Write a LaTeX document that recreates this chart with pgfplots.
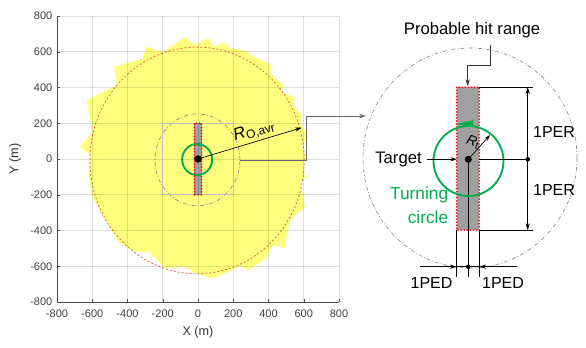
\documentclass[border=0pt]{standalone}
\usepackage{pgfplots}
\pgfplotsset{compat=1.18}
\usepackage{fontspec}
\setmainfont{Liberation Sans}
\usetikzlibrary{arrows.meta}
\definecolor{yel}{RGB}{255,255,125}
\definecolor{grn}{RGB}{0,176,80}
\definecolor{redc}{RGB}{245,20,20}
\definecolor{orc}{RGB}{225,105,70}
\definecolor{barg}{RGB}{160,160,160}
\tikzset{reddots/.style={redc, line width=1.5pt, line cap=round, dash pattern=on 0pt off 2.3pt}}
\begin{document}
\begin{tikzpicture}
\useasboundingbox (0,0) rectangle (439.5pt,260.25pt);
\begin{axis}[
 at={(42.75pt,33.75pt)}, anchor=south west,
 width=211.5pt, height=214.5pt, scale only axis,
 xmin=-800,xmax=800,ymin=-800,ymax=800,
 xtick={-800,-600,...,800}, ytick={-800,-600,...,800},
 grid=major, grid style={black, opacity=0.12, line width=0.5pt},
 axis on top,
 axis x line*=bottom, axis y line*=left,
 axis line style={black!70, line width=0.5pt, -},
 tick style={black!70}, major tick length=2.5pt, tick align=inside,
 ticklabel style={font=\fontsize{8.25}{10}\selectfont, text=black!75},
 /pgf/number format/assume math mode=true,
 xticklabel style={yshift=-2pt},
 xlabel={X (m)}, ylabel={Y (m)},
 label style={font=\fontsize{9.5}{11}\selectfont, text=black!80},
 clip=true,
]
\addplot[fill=yel, draw=none] coordinates {
(-670,69) (-600,150) (-631,330) (-461,414) (-475,516) (-310,563) (-297,628) (-197,600)
(-74,681) (-20,640) (58,675) (87,628) (149,651) (187,619) (276,606) (300,580) (418,526)
(410,480) (484,414) (470,380) (550,340) (540,300) (592,246) (580,200) (626,125) (588,69)
(607,22) (600,-60) (607,-106) (579,-127) (607,-275) (550,-313) (520,-350) (490,-500)
(430,-480) (380,-560) (286,-621) (240,-600) (150,-640) (78,-667) (-17,-640) (-74,-602)
(-187,-612) (-282,-518) (-367,-518) (-452,-463) (-556,-295) (-603,-201) (-622,-90) (-613,22)
(-670,69)};
\draw[orc, line width=0.6pt, dash pattern=on 1.5pt off 1.5pt] (axis cs:-5,-8) ellipse [x radius=608, y radius=634];
\draw[black!45, line width=0.5pt, dash pattern=on 3pt off 1.5pt on 0.6pt off 1.5pt] (axis cs:-3,-5) ellipse [x radius=241, y radius=257];
\draw[black!15, line width=0.6pt] (axis cs:-200,-200) rectangle (axis cs:200,200);
\fill[barg] (axis cs:-20,-200) rectangle (axis cs:20,200);
\draw[reddots] (axis cs:-20,-200) rectangle (axis cs:20,200);
\draw[grn, line width=1.4pt] (axis cs:-5,-3) ellipse [x radius=85, y radius=87];
\fill[grn] (axis cs:-22,82) -- (axis cs:10,92) -- (axis cs:10,72) -- cycle;
\draw[black, line width=0.5pt, -{Stealth[length=5pt,width=3.2pt]}] (axis cs:0,0) -- (axis cs:588,175);
\addplot[only marks, mark=*, mark size=2.5pt, black] coordinates {(0,0)};
\node[rotate=16.5, inner sep=0pt] at (axis cs:318,158) {{\fontsize{12.5}{14}\selectfont\textit{R}}{\fontsize{9}{10}\selectfont\raisebox{-0.45ex}{O,avr}}};
\end{axis}
\begin{axis}[
 at={(0pt,0pt)}, anchor=south west,
 width=439.5pt, height=260.25pt, scale only axis,
 hide axis, xmin=0,xmax=586,ymin=0,ymax=347, y dir=reverse, clip=false,
]
% connector
\draw[black!60, line width=0.5pt, -{Stealth[length=5pt,width=3.2pt]}] (axis cs:240,160) -- (axis cs:306,160) -- (axis cs:306,116) -- (axis cs:366,116);
% big circle
\draw[black!45, line width=0.5pt, dash pattern=on 3pt off 1.5pt on 0.6pt off 1.5pt] (axis cs:470,158) ellipse [x radius=107, y radius=110];
% bar
\fill[barg] (axis cs:456.7,87.3) rectangle (axis cs:479.3,230);
% center line
\draw[black, line width=0.5pt] (axis cs:468.3,159.3) -- (axis cs:468.3,276.7);
\draw[black, line width=0.5pt] (axis cs:456.7,230) -- (axis cs:456.7,276.7);
\draw[black, line width=0.5pt] (axis cs:479.3,230) -- (axis cs:479.3,276.7);
\draw[reddots] (axis cs:456.7,87.3) rectangle (axis cs:479.3,230);
% green circle
\draw[grn, line width=1.4pt] (axis cs:468.5,161) circle [radius=35];
\fill[grn] (axis cs:455.5,124) -- (axis cs:473.3,120) -- (axis cs:473.3,127.5) -- cycle;
% Rt arrow
\draw[black, line width=0.5pt, -{Stealth[length=4.5pt,width=3pt]}] (axis cs:468.3,159.3) -- (axis cs:490,135);
\node[rotate=-20, inner sep=0pt] at (axis cs:473,142) {{\fontsize{10.5}{12}\selectfont\textit{R}}{\fontsize{7.5}{9}\selectfont\raisebox{-0.45ex}{t}}};
% Target
\node[font=\fontsize{12.5}{14}\selectfont] at (axis cs:398.5,159.3) {Target};
\draw[black, line width=0.5pt, -{Stealth[length=4.5pt,width=3pt]}] (axis cs:426.7,159.3) -- (axis cs:456.7,159.3);
% 1PER dimension
\draw[black, line width=0.5pt] (axis cs:479.3,87.3) -- (axis cs:532.7,87.3);
\draw[black, line width=0.5pt] (axis cs:479.3,230) -- (axis cs:532.7,230);
\draw[black, line width=0.5pt] (axis cs:479.3,159.3) -- (axis cs:527.7,159.3);
\draw[black, line width=0.5pt, -{Stealth[length=5pt,width=3.2pt]}] (axis cs:527.7,159.3) -- (axis cs:527.7,87.3);
\draw[black, line width=0.5pt, -{Stealth[length=5pt,width=3.2pt]}] (axis cs:527.7,159.3) -- (axis cs:527.7,230);
\node[font=\fontsize{12}{14}\selectfont] at (axis cs:554,132) {1PER};
\node[font=\fontsize{12}{14}\selectfont] at (axis cs:554,190) {1PER};
% 1PED dimension
\draw[black, line width=0.5pt, -{Stealth[length=5pt,width=3.2pt]}] (axis cs:420,266.7) -- (axis cs:456.7,266.7);
\draw[black, line width=0.5pt, -{Stealth[length=5pt,width=3.2pt]}] (axis cs:516.7,266.7) -- (axis cs:479.3,266.7);
\draw[black, line width=0.5pt] (axis cs:456.7,266.7) -- (axis cs:479.3,266.7);
\node[font=\fontsize{12}{14}\selectfont] at (axis cs:431.5,283.3) {1PED};
\node[font=\fontsize{12}{14}\selectfont] at (axis cs:503,283.3) {1PED};
% dots
\addplot[only marks, mark=*, mark size=2.4pt, black] coordinates {(468.3,159.3)};
\addplot[only marks, mark=*, mark size=1.5pt, black] coordinates {(527.7,159.3) (468.3,266.7)};
% Turning circle
\node[font=\fontsize{13}{14}\selectfont, text=grn, anchor=east, inner sep=0pt] at (axis cs:448.5,195) {Turning};
\node[font=\fontsize{13}{14}\selectfont, text=grn, anchor=east, inner sep=0pt] at (axis cs:448.5,217) {circle};
% Probable hit range
\node[font=\fontsize{12.5}{14}\selectfont] at (axis cs:472,30) {Probable hit range};
\draw[black!80, line width=0.5pt, -{Stealth[length=5pt,width=3.2pt]}] (axis cs:490,45) -- (axis cs:490,65) -- (axis cs:467.7,65) -- (axis cs:467.7,86);
\end{axis}
\end{tikzpicture}
\end{document}
